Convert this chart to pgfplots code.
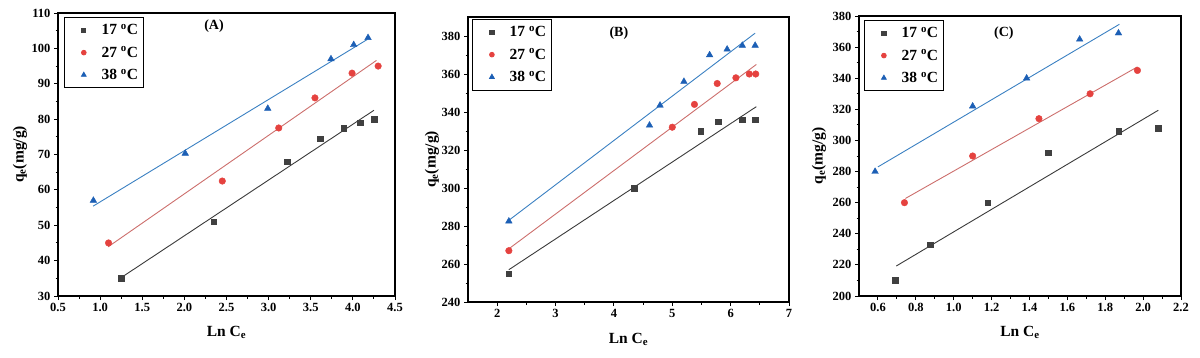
\documentclass[border=0pt]{standalone}
\usepackage{pgfplots}
\pgfplotsset{compat=1.18}
\usepackage{fontspec}
\setmainfont{Liberation Serif}
\definecolor{cgray}{HTML}{404040}
\definecolor{cred}{HTML}{E5423F}
\definecolor{cblue}{HTML}{1C5FB5}
\definecolor{lgray}{HTML}{3A3A3A}
\definecolor{lred}{HTML}{CC6E6C}
\definecolor{lblue}{HTML}{3A80C2}
\pgfplotsset{
  panel/.style={
    scale only axis, anchor=south west,
    axis line style={line width=1.3pt},
    tick style={line width=1pt, black},
    tick align=outside, xtick pos=left, ytick pos=left,
    major tick length=4pt, minor tick length=2.5pt,
    minor x tick num=1, minor y tick num=1,
    /pgf/number format/assume math mode=true,
    ticklabel style={font=\bfseries\fontsize{12.5}{13}\selectfont},
    xlabel={Ln C\textsubscript{e}},
    ylabel={q\textsubscript{e}(mg/g)},
    xlabel style={at={(axis description cs:0.5,-0.13)}, anchor=center, font=\bfseries\fontsize{15.5}{17}\selectfont},
    legend style={font=\bfseries\fontsize{15.5}{17}\selectfont, draw=black, line width=0.8pt,
      anchor=north west, row sep=6.5pt, inner xsep=3pt, inner ysep=5pt},
    legend cell align=left,
    legend image code/.code={\path (0cm,0cm) (1.1cm,0cm); \draw[mark options={scale=0.72}] plot coordinates {(0.56cm,0cm)};},
    clip=false,
  },
  sq/.style={only marks, mark=square*, mark size=2.8pt, color=cgray, mark options={draw=cgray, fill=cgray}},
  ci/.style={only marks, mark=*, mark size=3.3pt, color=cred, mark options={draw=cred, fill=cred}},
  tr/.style={only marks, mark=triangle*, mark size=3.8pt, color=cblue, mark options={draw=cblue, fill=cblue}},
  fg/.style={lgray, line width=0.9pt, no marks, forget plot},
  fr/.style={lred, line width=0.9pt, no marks, forget plot},
  fb/.style={lblue, line width=0.9pt, no marks, forget plot},
}
\begin{document}
\begin{tikzpicture}
\path[use as bounding box] (0pt,0pt) rectangle (1200pt,357pt);
% Panel A
\begin{axis}[panel, at={(58pt,61pt)}, width=337pt, height=283pt,
  xmin=0.5, xmax=4.5, ymin=30, ymax=110,
  xtick={0.5,1.0,...,4.5}, ytick={30,40,...,110},
  xticklabel style={/pgf/number format/.cd, fixed, fixed zerofill, precision=1},
  ylabel style={at={(axis description cs:-0.113,0.5)}, anchor=center, font=\bfseries\fontsize{15.5}{17}\selectfont},
  legend style={at={(axis description cs:0.018,0.986)}}]
\addplot[sq] coordinates {(1.25,35) (2.35,51) (3.22,68) (3.61,74.5) (3.89,77.5) (4.09,79) (4.25,80)};
\addlegendentry{17 \textsuperscript{o}C}
\addplot[ci] coordinates {(1.10,45) (2.45,62.5) (3.12,77.5) (3.55,86) (3.99,93) (4.30,95)};
\addlegendentry{27 \textsuperscript{o}C}
\addplot[tr] coordinates {(0.92,57) (2.01,70.3) (2.99,83) (3.74,97) (4.01,101) (4.18,103)};
\addlegendentry{38 \textsuperscript{o}C}
\addplot[fg] coordinates {(1.25,35.2) (4.25,82.5)};
\addplot[fr] coordinates {(1.095,43.9) (4.28,96.6)};
\addplot[fb] coordinates {(0.917,55.4) (4.17,102.5)};
\node[font=\bfseries\fontsize{14}{15}\selectfont] at (rel axis cs:0.463,0.954) {(A)};
\end{axis}
% Panel B
\begin{axis}[panel, at={(468pt,55pt)}, width=321pt, height=285pt,
  xmin=1.5, xmax=7, ymin=240, ymax=390,
  xtick={2,3,...,7}, ytick={240,260,...,380},
  ylabel style={at={(axis description cs:-0.112,0.5)}, anchor=center, font=\bfseries\fontsize{15.5}{17}\selectfont},
  legend style={at={(axis description cs:0.013,0.993)}}]
\addplot[sq] coordinates {(2.2,255) (4.35,300) (5.49,330) (5.79,335) (6.2,336) (6.42,336)};
\addlegendentry{17 \textsuperscript{o}C}
\addplot[ci] coordinates {(2.2,267) (5.0,332) (5.38,344) (5.77,355) (6.09,358) (6.32,360) (6.43,360)};
\addlegendentry{27 \textsuperscript{o}C}
\addplot[tr] coordinates {(2.2,282.5) (4.61,333) (4.79,343.5) (5.2,356) (5.64,370) (5.94,373) (6.2,375) (6.42,375)};
\addlegendentry{38 \textsuperscript{o}C}
\addplot[fg] coordinates {(2.2,257) (6.44,342.8)};
\addplot[fr] coordinates {(2.2,268) (6.44,365)};
\addplot[fb] coordinates {(2.2,283) (6.42,381.5)};
\node[font=\bfseries\fontsize{14}{15}\selectfont] at (rel axis cs:0.47,0.944) {(B)};
\end{axis}
% Panel C
\begin{axis}[panel, at={(859pt,61pt)}, width=322pt, height=280pt,
  xmin=0.5, xmax=2.2, ymin=200, ymax=380,
  xtick={0.6,0.8,...,2.21}, ytick={200,220,...,380},
  xticklabel style={/pgf/number format/.cd, fixed, fixed zerofill, precision=1},
  ylabel style={at={(axis description cs:-0.124,0.5)}, anchor=center, font=\bfseries\fontsize{15.5}{17}\selectfont},
  legend style={at={(axis description cs:0.016,0.986)}}]
\addplot[sq] coordinates {(0.69,210) (0.875,233) (1.18,260) (1.50,292) (1.87,306) (2.08,308)};
\addlegendentry{17 \textsuperscript{o}C}
\addplot[ci] coordinates {(0.74,260) (1.10,290) (1.45,314) (1.72,330) (1.97,345)};
\addlegendentry{27 \textsuperscript{o}C}
\addplot[tr] coordinates {(0.585,280) (1.10,322) (1.385,340) (1.665,365) (1.87,369)};
\addlegendentry{38 \textsuperscript{o}C}
\addplot[fg] coordinates {(0.697,219.3) (2.08,319.4)};
\addplot[fr] coordinates {(0.745,262.7) (1.97,347.3)};
\addplot[fb] coordinates {(0.6,283) (1.875,374.7)};
\node[font=\bfseries\fontsize{14}{15}\selectfont] at (rel axis cs:0.45,0.939) {(C)};
\end{axis}
\end{tikzpicture}
\end{document}
